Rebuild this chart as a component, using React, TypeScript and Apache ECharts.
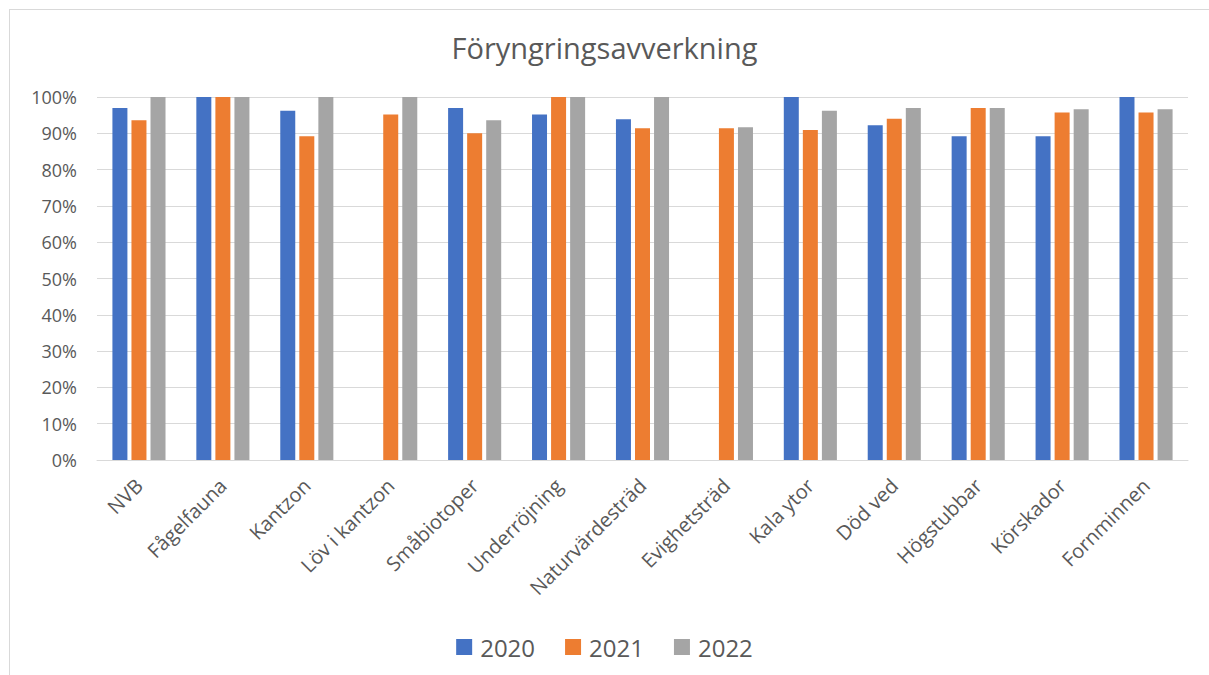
import React, { useEffect, useRef } from "react";
import * as echarts from "echarts";

const categories = [
  "NVB", "Fågelfauna", "Kantzon", "Löv i kantzon", "Småbiotoper", "Underröjning",
  "Naturvärdesträd", "Evighetsträd", "Kala ytor", "Död ved", "Högstubbar", "Körskador", "Fornminnen",
];
const seriesNames = ["2020", "2021", "2022"];
const values2020 = [97.0, 100, 96.2, null, 97.0, 95.2, 93.9, null, 100, 92.2, 89.2, 89.2, 100];
const values2021 = [93.6, 100, 89.2, 95.2, 90.0, 100, 91.4, 91.4, 90.9, 94.0, 97.0, 95.7, 95.7];
const values2022 = [100, 100, 100, 100, 93.6, 100, 100, 91.7, 96.2, 97.0, 97.0, 96.6, 96.6];
const colors = ["#4472C4", "#ED7D31", "#A5A5A5"];
const title = "Föryngringsavverkning";

export default function App() {
  const ref = useRef<HTMLDivElement>(null);
  useEffect(() => {
    document.body.style.margin = "0";
    const chart = echarts.init(ref.current!, undefined, { renderer: "svg" });
    const font = "'Open Sans', 'Noto Sans', sans-serif";
    const data = [values2020, values2021, values2022];
    chart.setOption({
      animation: false,
      backgroundColor: "#ffffff",
      textStyle: { fontFamily: font },
      title: {
        text: title,
        left: "center",
        top: 28,
        textStyle: { fontFamily: font, fontSize: 29, fontWeight: "normal", color: "#595959" },
      },
      legend: {
        data: seriesNames,
        top: 630,
        left: "center",
        itemWidth: 16,
        itemHeight: 16,
        itemGap: 30,
        icon: "rect",
        textStyle: { fontFamily: font, fontSize: 24, color: "#595959", padding: [0, 0, 0, 3] },
      },
      grid: { left: 97, right: 21, top: 97, bottom: 215, containLabel: false },
      xAxis: {
        type: "category",
        data: categories,
        axisTick: { show: false },
        axisLine: { lineStyle: { color: "#D9D9D9" } },
        axisLabel: { rotate: 45, fontSize: 20, color: "#595959", fontFamily: font, margin: 22, interval: 0 },
      },
      yAxis: {
        type: "value",
        min: 0,
        max: 100,
        interval: 10,
        axisLabel: { formatter: "{value}%", fontSize: 18, color: "#595959", fontFamily: font, margin: 20 },
        splitLine: { lineStyle: { color: "#D9D9D9" } },
        axisLine: { show: false },
        axisTick: { show: false },
      },
      series: seriesNames.map((name, i) => ({
        name,
        type: "bar",
        data: data[i],
        barWidth: 15,
        barGap: "27%",
        itemStyle: { color: colors[i] },
      })),
      graphic: [
        { type: "line", shape: { x1: 9.5, y1: 9, x2: 9.5, y2: 675 }, style: { stroke: "#D9D9D9", lineWidth: 1 } },
        { type: "line", shape: { x1: 9, y1: 9.5, x2: 1209, y2: 9.5 }, style: { stroke: "#D9D9D9", lineWidth: 1 } },
      ],
    });
    return () => chart.dispose();
  }, []);
  return <div ref={ref} style={{ width: 1209, height: 675 }} />;
}
